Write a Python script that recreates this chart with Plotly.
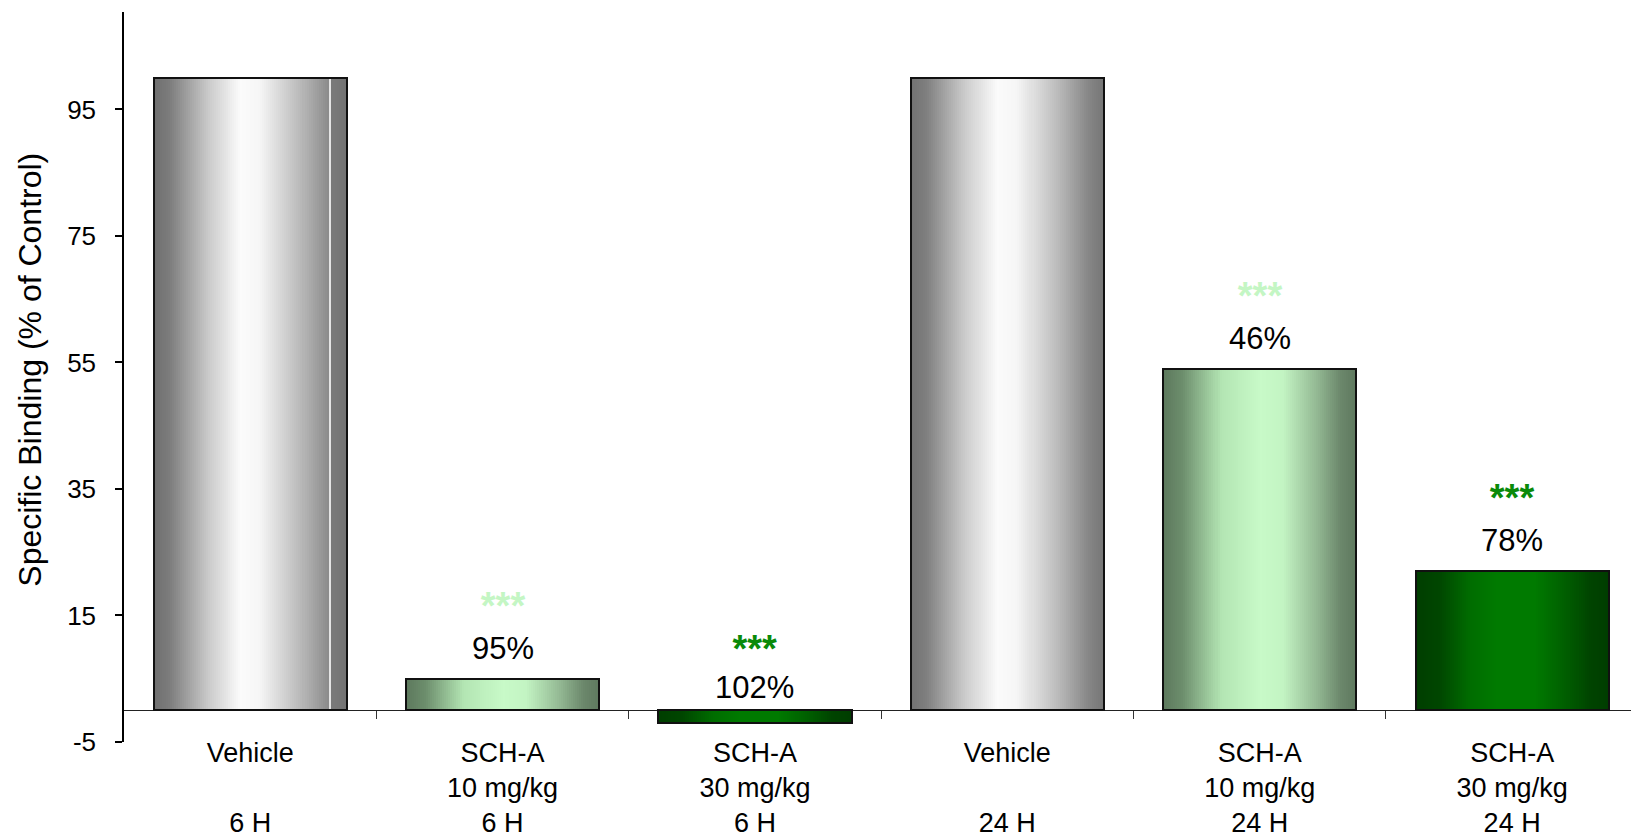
import plotly.graph_objects as go

# ---- data ----
groups = ["Vehicle", "SCH-A", "SCH-A", "Vehicle", "SCH-A", "SCH-A"]
doses = ["", "10 mg/kg", "30 mg/kg", "", "10 mg/kg", "30 mg/kg"]
times = ["6 H", "6 H", "6 H", "24 H", "24 H", "24 H"]
binding = [100, 5, -2, 100, 54, 22]
reduction_labels = ["", "95%", "102%", "", "46%", "78%"]
significance = ["", "***", "***", "", "***", "***"]
y_ticks = [-5, 15, 35, 55, 75, 95]

# ---- styling ----
FONT = "Liberation Sans, Arial, sans-serif"
Y_MIN, Y_MAX = -5, 110.4
BAR_W = 0.765
N_STRIPES = 96
LABEL_SIZE = 31
STAR_SIZE = 38

gradients = {
    "gray_seam": [(0.0, "#6f6f6f"), (0.08, "#7c7c7c"), (0.28, "#c9c9c9"), (0.45, "#fbfbfb"),
                  (0.55, "#f6f6f6"), (0.75, "#bdbdbd"), (0.9, "#8c8c8c"), (0.9049, "#8c8c8c"),
                  (0.905, "#e4e4e4"), (0.915, "#e4e4e4"), (0.9151, "#7a7a7a"), (1.0, "#737373")],
    "gray": [(0.0, "#727272"), (0.08, "#7f7f7f"), (0.28, "#cbcbcb"), (0.45, "#fbfbfb"),
             (0.55, "#f6f6f6"), (0.75, "#bebebe"), (0.92, "#868686"), (1.0, "#767676")],
    "light": [(0.0, "#5d795d"), (0.1, "#6c8d6c"), (0.3, "#b3e5b3"), (0.5, "#c8fac8"),
              (0.62, "#c3f4c3"), (0.8, "#92b792"), (0.92, "#6b876b"), (1.0, "#5f795f")],
    "dark": [(0.0, "#003e00"), (0.12, "#004600"), (0.28, "#006c00"), (0.42, "#007a00"),
             (0.62, "#007a00"), (0.8, "#005a00"), (0.9, "#004400"), (1.0, "#003d00")],
}
bar_styles = ["gray_seam", "light", "dark", "gray", "light", "dark"]
star_colors = {"light": "#c4f6c4", "dark": "#0a8a0a"}


def hex_to_rgb(h):
    h = h.lstrip("#")
    return tuple(int(h[i:i + 2], 16) for i in (0, 2, 4))


def sample(stops, t):
    for (t0, c0), (t1, c1) in zip(stops, stops[1:]):
        if t0 <= t <= t1:
            a = 0 if t1 == t0 else (t - t0) / (t1 - t0)
            r0, r1 = hex_to_rgb(c0), hex_to_rgb(c1)
            return "rgb(%d,%d,%d)" % tuple(round(x0 + (x1 - x0) * a) for x0, x1 in zip(r0, r1))
    return stops[-1][1]


x_pos = list(range(len(binding)))
tick_text = [f"{g}<br>{d if d else '&#160;'}<br>{t}" for g, d, t in zip(groups, doses, times)]

fig = go.Figure()

# shaded bars built from narrow vertical stripes
step = BAR_W / N_STRIPES
for i in range(N_STRIPES):
    t = (i + 0.5) / N_STRIPES
    fig.add_trace(go.Bar(
        x=x_pos, y=binding,
        offset=-BAR_W / 2 + i * step, width=step * 1.15,
        marker=dict(color=[sample(gradients[s], t) for s in bar_styles], line=dict(width=0)),
        showlegend=False, hoverinfo="skip",
    ))

# outlines
fig.add_trace(go.Bar(
    x=x_pos, y=binding, width=BAR_W,
    marker=dict(color="rgba(0,0,0,0)", line=dict(color="#111111", width=2)),
    showlegend=False, hoverinfo="skip",
))

# boundary tick marks along the zero line
fig.add_trace(go.Scatter(x=[0.5], y=[None], xaxis="x2", showlegend=False, hoverinfo="skip"))

annotations = []
for xi, v, lab, sig, s in zip(x_pos, binding, reduction_labels, significance, bar_styles):
    if not lab:
        continue
    # stars above the reduction label; slightly tighter spacing when the bar hangs below zero
    base = LABEL_SIZE if v > 0 else 28
    text = (f"<span style='font-size:{STAR_SIZE}px;color:{star_colors[s]}'><b>{sig}</b></span>"
            f"<br><span style='font-size:{LABEL_SIZE}px'>{lab}</span>")
    annotations.append(dict(x=xi, y=max(v, 0), xref="x", yref="y", text=text, showarrow=False,
                            yanchor="bottom", yshift=11 if v > 0 else 3,
                            font=dict(family=FONT, size=base, color="#000000")))

annotations.append(dict(x=0, y=0.51, xref="paper", yref="paper", xanchor="center",
                        yanchor="middle", xshift=-94, textangle=-90, showarrow=False,
                        text="Specific Binding (% of Control)",
                        font=dict(family=FONT, size=32, color="#000000")))

fig.update_layout(
    width=1631, height=838,
    margin=dict(l=124, r=0, t=12, b=96, pad=0),
    paper_bgcolor="white", plot_bgcolor="white",
    barmode="overlay", bargap=0,
    font=dict(family=FONT, color="#000000"),
    annotations=annotations,
    xaxis=dict(range=[-0.5, 5.471], tickvals=x_pos, ticktext=tick_text, ticks="",
               showline=False, showgrid=False, zeroline=False,
               tickfont=dict(size=27, family=FONT), ticklabelstandoff=-8),
    xaxis2=dict(range=[-0.5, 5.471], overlaying="x", anchor="free",
                position=(0 - Y_MIN) / (Y_MAX - Y_MIN),
                tickvals=[0.5, 1.5, 2.5, 3.5, 4.5], ticks="outside", ticklen=8,
                tickcolor="#333333", tickwidth=1, showticklabels=False,
                showline=False, showgrid=False, zeroline=False),
    yaxis=dict(range=[Y_MIN, Y_MAX], tickvals=y_ticks, ticktext=[str(v) for v in y_ticks],
               ticks="outside", ticklen=7,
               tickcolor="#000000", tickwidth=1.5, showline=True, linecolor="#000000",
               linewidth=1.5, showgrid=False, zeroline=True, zerolinecolor="#222222",
               zerolinewidth=1, tickfont=dict(size=26, family=FONT), ticklabelstandoff=14),
)

fig.write_html("out.html")
